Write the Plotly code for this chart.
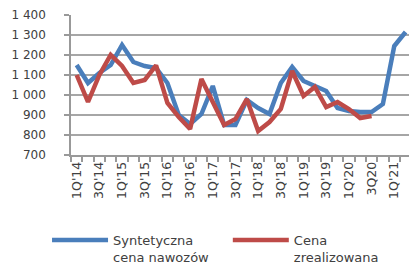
import plotly.graph_objects as go

quarters = ["1Q'14", "2Q'14", "3Q'14", "4Q'14", "1Q'15", "2Q'15", "3Q'15", "4Q'15",
            "1Q'16", "2Q'16", "3Q'16", "4Q'16", "1Q'17", "2Q'17", "3Q'17", "4Q'17",
            "1Q'18", "2Q'18", "3Q'18", "4Q'18", "1Q'19", "2Q'19", "3Q'19", "4Q'19",
            "1Q'20", "2Q'20", "3Q'20", "4Q'20", "1Q'21", "2Q'21"]
tick_labels = ["1Q'14", "", "3Q'14", "", "1Q'15", "", "3Q'15", "", "1Q'16", "", "3Q'16", "",
               "1Q'17", "", "3Q'17", "", "1Q'18", "", "3Q'18", "", "1Q'19", "", "3Q'19", "",
               "1Q'20", "", "3Q20", "", "1Q'21", ""]
synthetic = [1150, 1060, 1110, 1150, 1250, 1165, 1145, 1135, 1060, 900, 855, 905, 1045, 850, 850,
             975, 935, 905, 1060, 1140, 1070, 1045, 1020, 935, 920, 915, 915, 955, 1245, 1315]
realized = [1100, 965, 1100, 1200, 1145, 1060, 1075, 1148, 960, 890, 830, 1080, 965, 850, 880,
            980, 820, 865, 930, 1120, 995, 1040, 940, 965, 930, 885, 895]
y_ticks = [700, 800, 900, 1000, 1100, 1200, 1300, 1400]
y_tick_text = ["700", "800", "900", "1 000", "1 100", "1 200", "1 300", "1 400"]

fig = go.Figure()
fig.add_trace(go.Scatter(x=quarters, y=synthetic, mode="lines",
                         name="Syntetyczna<br>cena nawozów", legend="legend",
                         line=dict(color="#4A7EBB", width=4.5)))
fig.add_trace(go.Scatter(x=quarters[:len(realized)], y=realized, mode="lines",
                         name="Cena<br>zrealizowana", legend="legend2",
                         line=dict(color="#BE4B48", width=4.5)))

legend_font = dict(family="DejaVu Sans", size=13, color="#404040")
common_legend = dict(orientation="h", xref="container", yref="container",
                     y=0.16, xanchor="left", yanchor="top",
                     itemwidth=56, valign="top", font=legend_font,
                     bgcolor="rgba(0,0,0,0)")

fig.update_layout(
    width=409, height=268,
    margin=dict(l=71, r=0, t=15, b=113),
    paper_bgcolor="white", plot_bgcolor="white",
    font=dict(family="DejaVu Sans", size=12, color="#404040"),
    showlegend=True,
    legend=dict(common_legend, x=0.115),
    legend2=dict(common_legend, x=0.557),
    xaxis=dict(type="category", categoryorder="array", categoryarray=quarters,
               range=[-0.5, 29.3], tickmode="array", tickvals=quarters, ticktext=tick_labels,
               tickson="boundaries", ticks="outside", ticklen=5, tickcolor="#999999",
               tickwidth=1.5, tickangle=-90, showgrid=False, showline=True,
               linecolor="#999999", linewidth=1.5, zeroline=False, automargin=False,
               tickfont=dict(family="DejaVu Sans", size=12.5, color="#404040")),
    yaxis=dict(range=[700, 1400], tickmode="array", tickvals=y_ticks, ticktext=y_tick_text,
               ticks="outside", ticklen=5, tickcolor="#999999", tickwidth=1.5,
               showgrid=True, gridcolor="#A6A6A6", gridwidth=1.5,
               showline=True, linecolor="#999999", linewidth=1.5, zeroline=False,
               ticklabelstandoff=16, automargin=False,
               tickfont=dict(family="DejaVu Sans", size=12, color="#404040")),
)

fig.write_html("out.html", config={"displayModeBar": False},
               post_script="document.body.style.margin='0';")
